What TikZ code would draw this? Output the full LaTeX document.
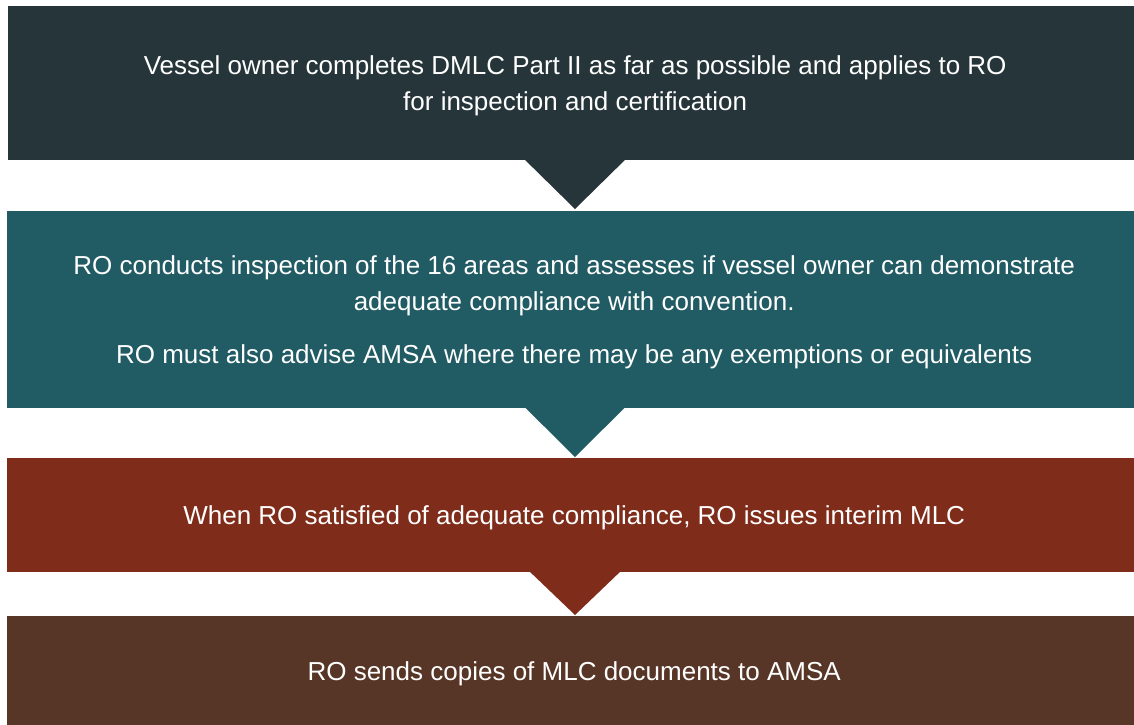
\documentclass[tikz,border=0pt]{standalone}
\usepackage{fontspec}
\setmainfont{Liberation Sans}
\definecolor{cA}{HTML}{263539}
\definecolor{cB}{HTML}{215B63}
\definecolor{cC}{HTML}{7F2D1A}
\definecolor{cD}{HTML}{573627}
\begin{document}
\begin{tikzpicture}[x=1pt,y=-1pt,
  stage/.style={rectangle, inner sep=0pt, minimum width=1134pt, anchor=north west},
  stagetext/.style={text=white, align=center, inner sep=0pt, yshift=-3pt,
    font=\fontsize{26}{36}\selectfont}]
\useasboundingbox (0,0) rectangle (1134,724);
\clip (0,0) rectangle (1134,724);
\node[stage, fill=cA, minimum height=154pt] (b1) at (8,6) {};
\node[stage, fill=cB, minimum height=197pt] (b2) at (7,211) {};
\node[stage, fill=cC, minimum height=114pt] (b3) at (7,458) {};
\node[stage, fill=cD, minimum height=110pt] (b4) at (7,616) {};
\coordinate (t1) at (575,209);
\coordinate (t2) at (575,457);
\coordinate (t3) at (575,615);
\fill[cA] (t1) -- ([xshift=-50.5pt,yshift=1pt]t1 |- b1.south) -- ([xshift=50.5pt,yshift=1pt]t1 |- b1.south) -- cycle;
\fill[cB] (t2) -- ([xshift=-50pt,yshift=1pt]t2 |- b2.south) -- ([xshift=50pt,yshift=1pt]t2 |- b2.south) -- cycle;
\fill[cC] (t3) -- ([xshift=-45.5pt,yshift=1pt]t3 |- b3.south) -- ([xshift=45.5pt,yshift=1pt]t3 |- b3.south) -- cycle;
\node[stagetext] (l1) at (b1.center)
  {Vessel owner completes DMLC Part II as far as possible and applies to RO\\for inspection and certification};
\node[stagetext] (l2) at (b2.center)
  {RO conducts inspection of the 16 areas and assesses if vessel owner can demonstrate\\adequate compliance with convention.\\[17pt]RO must also advise AMSA where there may be any exemptions or equivalents};
\node[stagetext] (l3) at (b3.center)
  {When RO satisfied of adequate compliance, RO issues interim MLC};
\node[stagetext] (l4) at (b4.center)
  {RO sends copies of MLC documents to AMSA};
\end{tikzpicture}
\end{document}
